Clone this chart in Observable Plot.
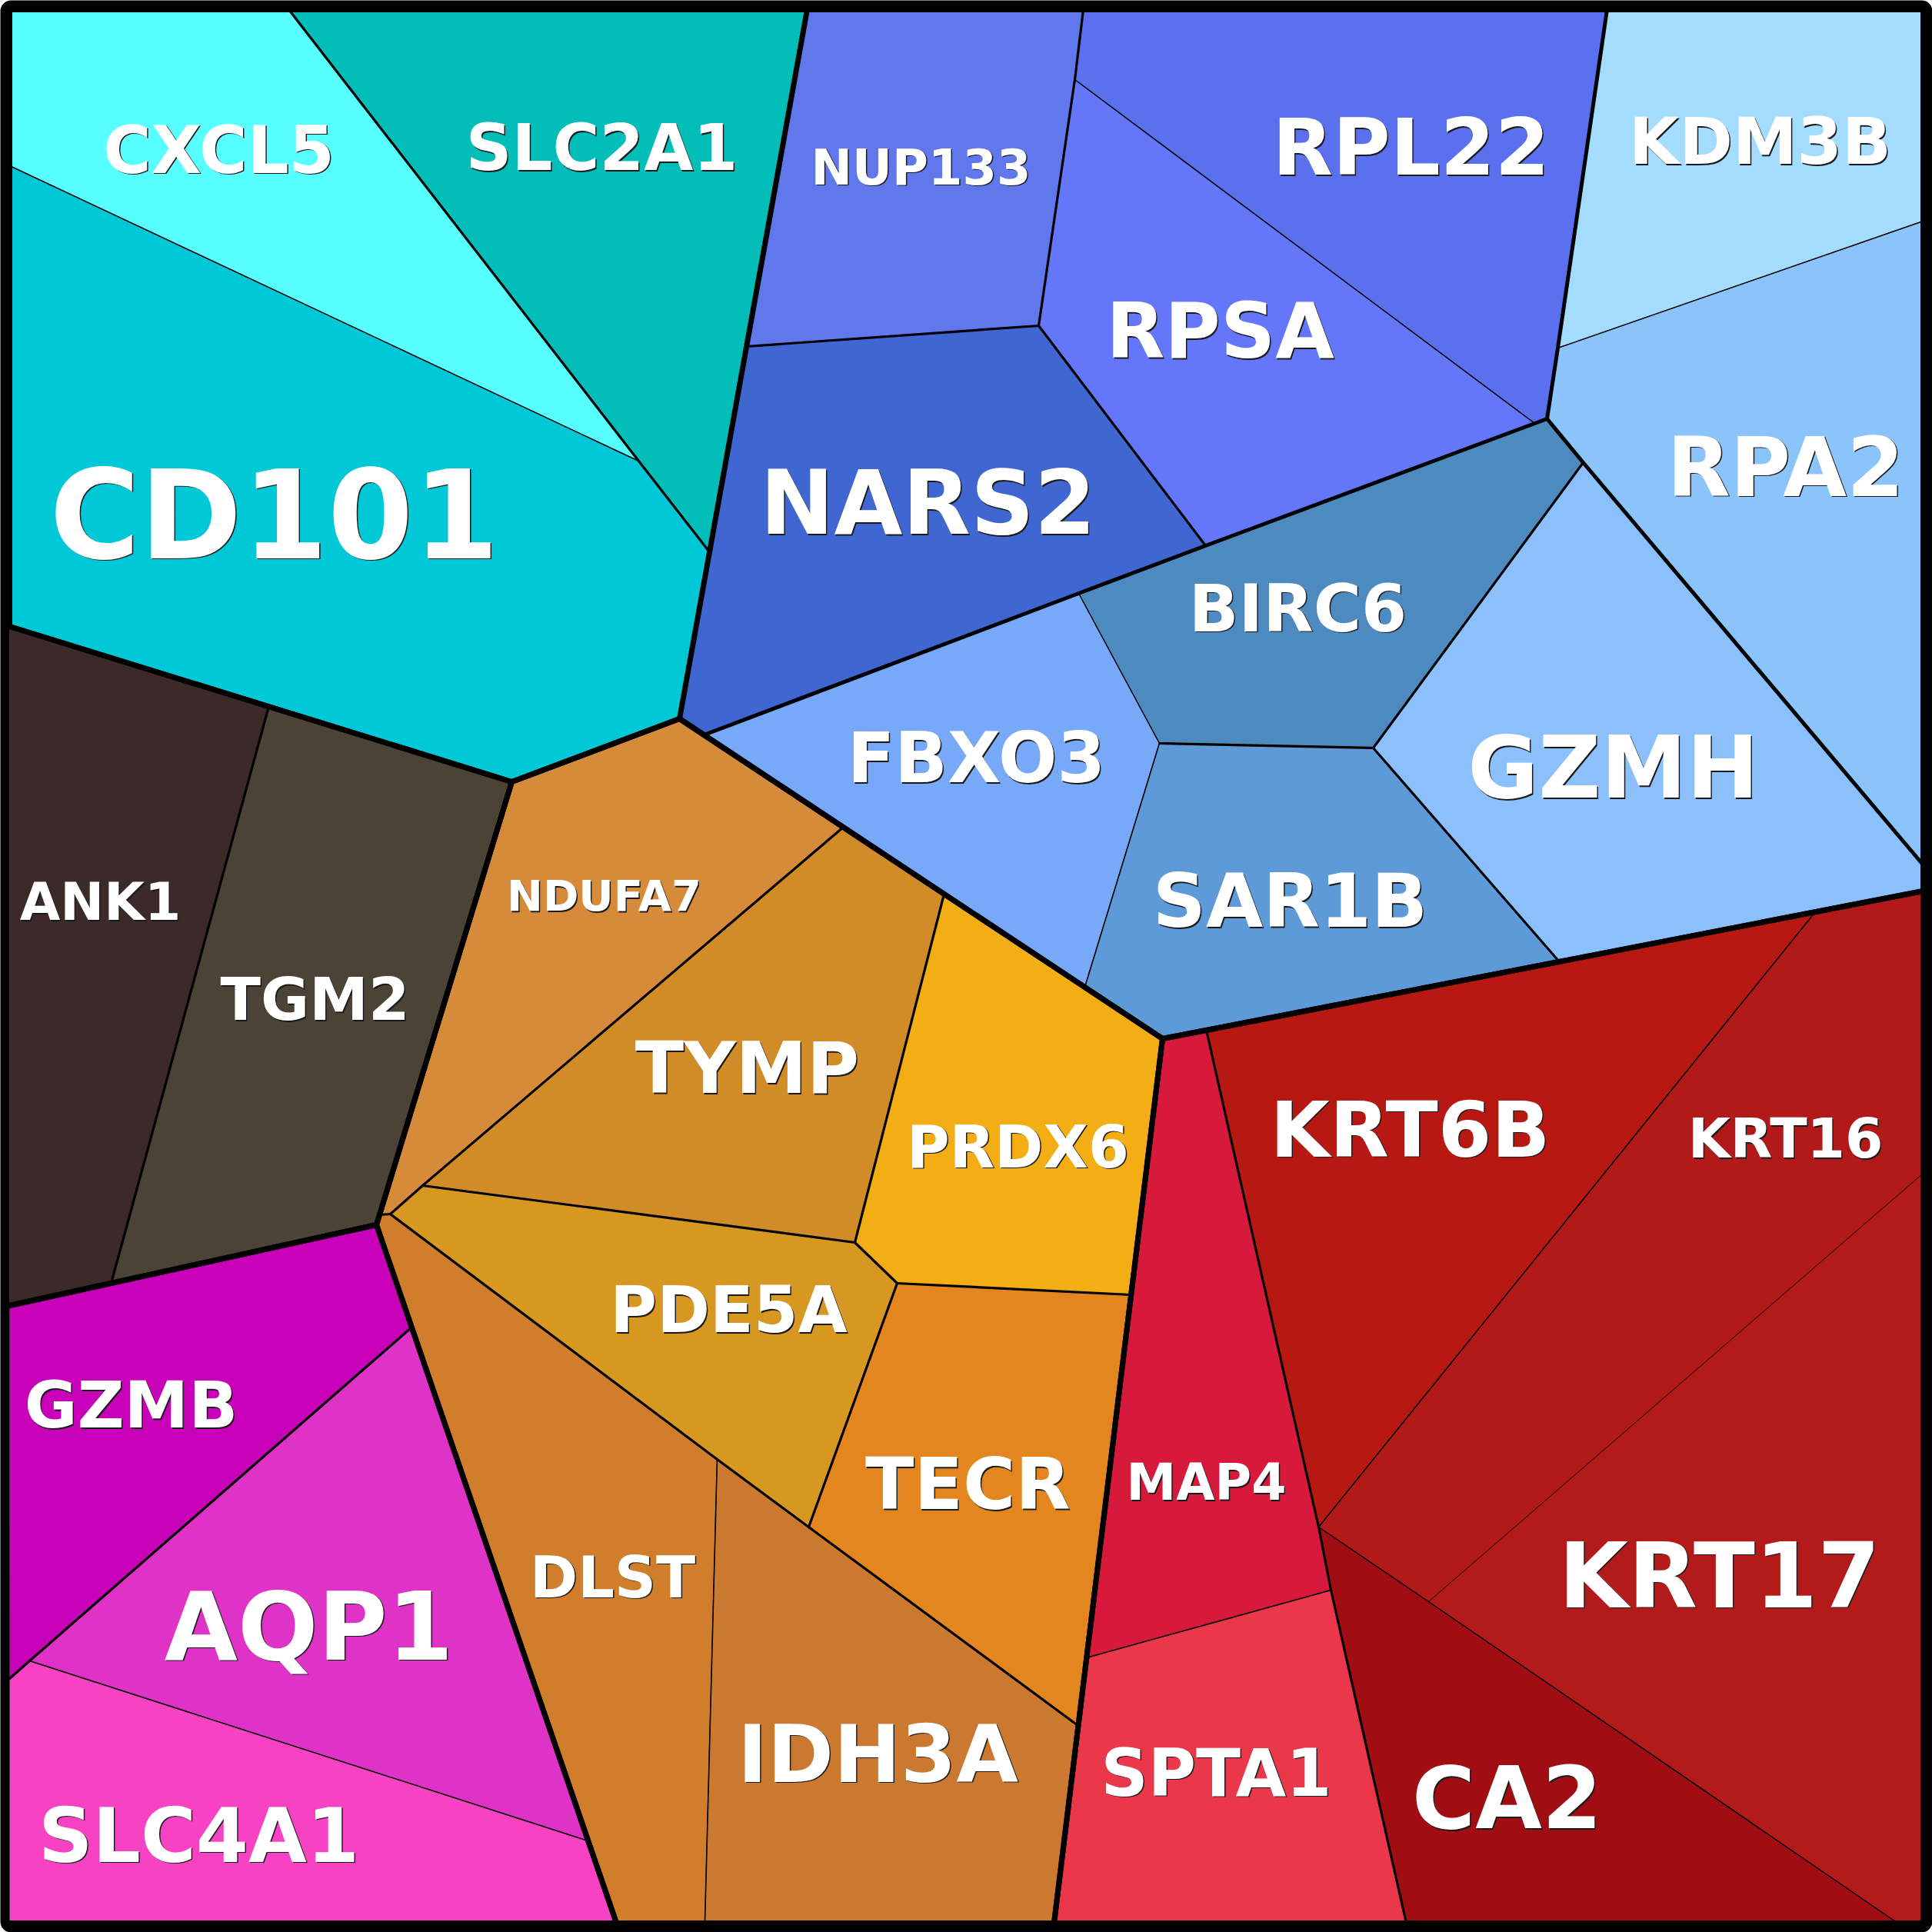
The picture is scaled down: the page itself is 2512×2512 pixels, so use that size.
<!DOCTYPE html>
<html>
<head>
<meta charset="utf-8">
<script src="https://cdn.jsdelivr.net/npm/d3@7"></script>
<script src="https://cdn.jsdelivr.net/npm/@observablehq/plot@0.6"></script>
<style>
  html, body { margin: 0; padding: 0; background: #ffffff; }
  #chart svg { display: block; }
</style>
</head>
<body>
<div id="chart"></div>
<script>
// ---- Voronoi treemap geometry (pixel units of the 2512 canvas) ----
const vertexNames = ["TL","TR","BR","BL",
  "c1","c2","c3","c4","c5","c6","c7","c8",
  "b1","b2","b3","b4",
  "m1","m2","m3","m4","m5",
  "o1","o2","o3","o4","o5","o6","o7","o8","o9","o10","o11","o12",
  "g1","g2","Gb",
  "r1","r2","r3","r4","r5","r6","r7","r8","r9",
  "u1","u2","u3","u4","u5","u6","u7","u8","u9","u10","u11","u12","u13","u14","u15","u16","u17","u18"];
const vertexX = [12,2500,2500,12,
  375,1049,830,921,883,665,12,12,
  349,489,144,12,
  535,12,38,764,801,
  1096,1227,549,507,493,1111,1166,1470,1051,932,1401,916,
  1511,1370,2500,
  1568,2360,2500,1714,1730,1412,1857,2467,1828,
  1408,1397,1350,970,2089,2011,1567,915,2500,2025,2058,2500,1785,1507,1402,1410,2027,1995];
const vertexY = [12,12,2500,2500,
  12,12,599,716,934,1016,814,215,
  918,1592,1668,1697,
  1725,2182,2159,2393,2500,
  1075,1162,1541,1578,1579,1615,1668,1683,1985,1897,2243,2500,
  1350,2500,1158,
  1339,1185,1525,1985,2067,2155,2082,2500,2500,
  12,103,423,450,12,544,709,955,287,452,601,1124,972,966,771,1283,1250,550];

// ---- cells (leaf genes) ----
const cellNames = ["CXCL5","SLC2A1","CD101","ANK1","TGM2","GZMB","AQP1","SLC4A1",
  "NDUFA7","TYMP","PRDX6","PDE5A","DLST","IDH3A","TECR",
  "MAP4","SPTA1","KRT6B","KRT16","KRT17","CA2",
  "NUP133","RPL22","RPSA","NARS2","KDM3B","RPA2","GZMH","BIRC6","FBXO3","SAR1B"];
const cellPolygons = [
  "TL c1 c3 c8", "c1 c2 c4 c3", "c8 c3 c4 c5 c6 b1 c7",
  "c7 b1 b3 b4", "b1 c6 o5 b2 b3",
  "b4 b3 b2 m1 m3 m2", "m1 m4 m3", "m2 m3 m4 m5 BL",
  "c6 c5 o1 o3 o4 o5", "o1 o2 o6 o3", "o2 g1 o8 o7 o6", "o3 o6 o7 o9 o10 o4",
  "o5 o4 o10 o12 m5 b2", "o10 o9 o11 g2 o12", "o7 o8 o11 o9",
  "g1 r1 r4 r5 r6", "r6 r5 r9 g2", "r1 r2 r4", "r2 Gb r3 r7 r4", "r7 r3 BR r8", "r4 r7 r8 r9 r5",
  "c2 u1 u2 u3 u4", "u1 u5 u10 u6 u18 u2", "u2 u18 u7 u3", "u4 u3 u7 u8 c5",
  "u5 TR u9 u10", "u10 u9 u12 u11 u6", "u11 u12 Gb u17 u13",
  "u7 u6 u11 u13 u14 u15", "u8 u15 u14 u16", "u14 u13 u17 g1 u16"];
const cellColors = ["#58ffff","#02bdb8","#00c8d7","#3c2a28","#4c4337","#c800b8","#de33c6","#f842c4",
  "#d68b3a","#d18c28","#f2ae14","#d69820","#d07d2c","#cb7830","#e3861f",
  "#d7193c","#eb374a","#b71812","#b21a1a","#b31a1a","#a00e14",
  "#6078eb","#5a70ee","#6476f9","#4066d2","#a3dcfe","#8ac4fa","#8cc0fc","#4d8abf","#78a8f8","#5e9ad8"];

// ---- hierarchy borders: rank 1 = top group, 2 = subgroup, 3 = inner group, 4 = leaf, 5 = finest ----
const borderPaths = [
  "TL c2 c5 c6 c7 TL", "c7 c6 b2 b4", "b4 b2 m5 BL", "c6 c5 g1 g2 m5 b2 c6", "g1 Gb BR g2 g1", "c2 TR Gb g1 c5",
  "u5 u10 u6", "u6 u18 u7 u15 u8", "u6 u11 u12",
  "c1 c3 c4", "b1 b3", "m1 m3 m2",
  "o1 o3", "o2 o6", "o3 o6", "o6 o7", "o7 o8", "o5 o4", "o3 o4", "o4 o10 o9 o11", "o7 o9",
  "r1 r4 r5 r9",
  "u1 u2 u3", "u3 u4", "u3 u7", "u11 u13", "u13 u14", "u13 u17",
  "c8 c3", "m3 m4", "o10 o12", "r6 r5", "r4 r7 r8", "r2 r4", "u2 u18", "u10 u9", "u15 u14", "u14 u16",
  "r7 r3"];
const borderRanks = [1,1,1,1,1,1,
  2,2,2,
  3,3,3,
  3,3,3,3,3,3,3,3,3,
  3,
  3,3,3,3,3,3,
  4,4,4,4,4,4,4,4,4,4,
  5];

// ---- labels ----
const labelX = [284,782,356,130,409,170,401,258,
  785,971,1323,947,796,1141,1258,
  1568,1581,1833,2321,2235,1959,
  1197,1834,1586,1206,2288,2321,2097,1687,1269,1677];
const labelY = [197,194,674,1174,1301,1829,2118,2389,
  1166,1391,1493,1705,2052,2283,1932,
  1929,2307,1471,1482,2052,2341,
  219,194,433,657,186,610,1001,793,988,1174];
const labelSize = [85,83,160,68,77,84,123,98,
  56,93,76,83,75,104,93,
  65,85,100,71,117,112,
  64,102,99,115,84,107,112,85,90,96];

// ---- build tables for the library ----
const V = new Map(vertexNames.map((n, i) => [n, [vertexX[i], vertexY[i]]]));
const cellRows = cellNames.flatMap((name, i) =>
  cellPolygons[i].split(" ").map(v => ({cell: name, x: V.get(v)[0], y: V.get(v)[1]})));
const borderRows = borderPaths.flatMap((p, i) =>
  p.split(" ").map(v => ({id: i, rank: borderRanks[i], x: V.get(v)[0], y: V.get(v)[1]})));
const labels = cellNames.map((name, i) => ({name, x: labelX[i], y: labelY[i], size: labelSize[i]}));

const rankWidth = {1: 7, 2: 5, 3: 3.2, 4: 1.5, 5: 0.9};
const borderMarks = [5, 4, 3, 2, 1].map(r =>
  Plot.line(borderRows.filter(d => d.rank === r), {
    x: "x", y: "y", z: "id", stroke: "black", strokeWidth: rankWidth[r],
    strokeLinejoin: "round", strokeLinecap: "round", strokeOpacity: r === 5 ? 0.6 : 1
  }));

const chart = Plot.plot({
  width: 2512,
  height: 2512,
  margin: 0,
  x: {domain: [0, 2512], range: [0, 2512], axis: null},
  y: {domain: [0, 2512], range: [0, 2512], axis: null},
  color: {type: "ordinal", domain: cellNames, range: cellColors},
  style: {background: "white", fontFamily: "DejaVu Sans"},
  marks: [
    Plot.line(cellRows, {x: "x", y: "y", z: "cell", fill: "cell", stroke: "black", strokeWidth: 1, strokeOpacity: 0.5, curve: "linear-closed"}),
    ...borderMarks,
    Plot.frame({stroke: "black", strokeWidth: 12, inset: 6, rx: 8}),
    Plot.text(labels, {x: "x", y: "y", text: "name", fontSize: "size", fontWeight: "bold",
      fontFamily: "DejaVu Sans", fill: "#1a1a1a", dx: 1.5, dy: 1.5, textAnchor: "middle", lineAnchor: "middle"}),
    Plot.text(labels, {x: "x", y: "y", text: "name", fontSize: "size", fontWeight: "bold",
      fontFamily: "DejaVu Sans", fill: "white", textAnchor: "middle", lineAnchor: "middle"})
  ]
});
document.getElementById("chart").append(chart);
</script>
</body>
</html>
